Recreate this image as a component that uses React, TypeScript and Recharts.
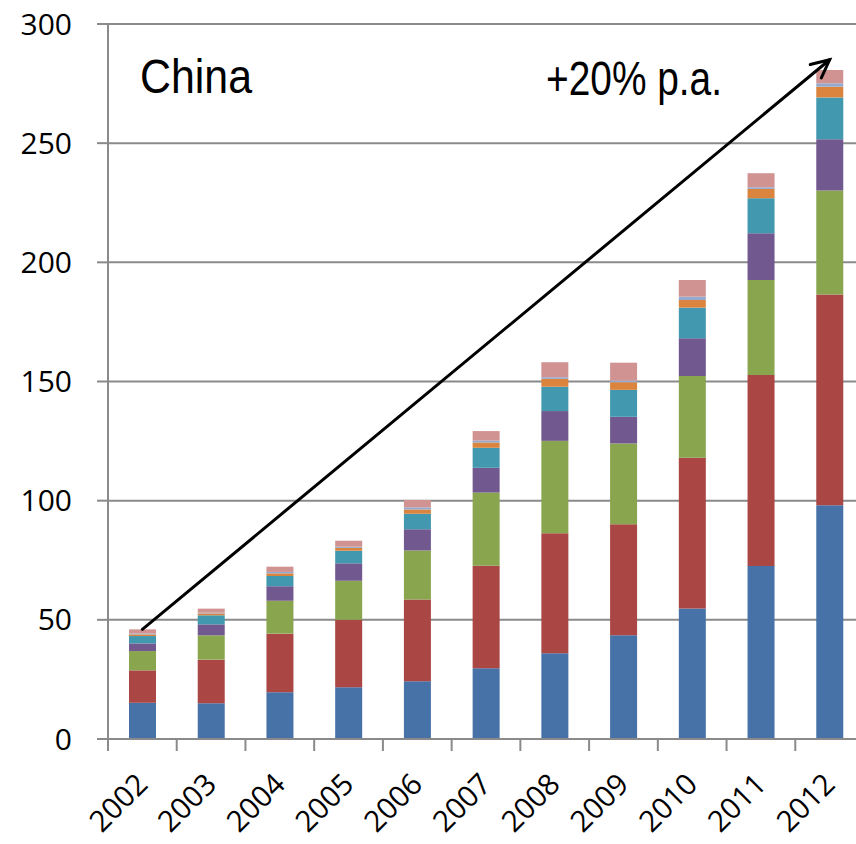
import React from 'react';
import {
  BarChart,
  Bar,
  XAxis,
  YAxis,
  CartesianGrid,
  ReferenceLine,
  Customized,
} from 'recharts';

if (typeof document !== 'undefined') document.body.style.margin = '0';

const YEARS = ['2002', '2003', '2004', '2005', '2006', '2007', '2008', '2009', '2010', '2011', '2012'];

const S1 = [15.2, 15.0, 19.6, 21.7, 24.2, 29.7, 36.0, 43.5, 54.8, 72.6, 98.1];
const S2 = [13.6, 18.3, 24.6, 28.3, 34.3, 43.0, 50.3, 46.6, 63.2, 80.1, 88.4];
const S3 = [8.1, 10.2, 13.8, 16.4, 20.6, 30.7, 38.8, 33.9, 34.3, 39.9, 43.6];
const S4 = [3.2, 4.6, 6.1, 7.3, 8.9, 10.4, 12.5, 11.2, 15.8, 19.6, 21.5];
const S5 = [3.1, 3.8, 4.3, 5.3, 6.5, 8.4, 10.2, 11.3, 12.9, 14.7, 17.6];
const S6 = [0.7, 0.8, 1.1, 1.2, 1.8, 2.2, 3.3, 3.2, 3.2, 3.9, 4.5];
const S7 = [0.4, 0.3, 0.6, 0.5, 0.9, 0.8, 0.7, 0.7, 1.4, 0.7, 1.4];
const S8 = [1.7, 1.7, 2.2, 2.5, 3.1, 4.0, 6.3, 7.5, 7.0, 5.9, 5.6];

const Y_TICKS = [0, 50, 100, 150, 200, 250, 300];

// trend arrow: from the 2002 total to +20% p.a. over ten years
const ARROW_START = 46;
const ARROW_END = 285;

const SERIES = [
  { key: 's1', values: S1, color: '#4672A8' },
  { key: 's2', values: S2, color: '#AA4643' },
  { key: 's3', values: S3, color: '#89A54E' },
  { key: 's4', values: S4, color: '#71588F' },
  { key: 's5', values: S5, color: '#4198AF' },
  { key: 's6', values: S6, color: '#DB843D' },
  { key: 's7', values: S7, color: '#93A9CF' },
  { key: 's8', values: S8, color: '#D19392' },
];

const data = YEARS.map((year, i) => {
  const row: Record<string, string | number> = { year };
  SERIES.forEach((s) => {
    row[s.key] = s.values[i];
  });
  return row;
});

const WIDTH = 864;
const HEIGHT = 844;
const Y_AXIS_W = 108;
const BAND = (WIDTH - Y_AXIS_W) / YEARS.length;
const GRAY = '#8a8a8a';
const FONT = '"Open Sans", sans-serif';

const YearTick = (props: any) => {
  const { x, y, payload, index } = props;
  const half = BAND / 2;
  return (
    <g transform={`translate(${x},${y})`}>
      <line x1={-half} y1={0} x2={-half} y2={12} stroke={GRAY} strokeWidth={2} />
      {index === YEARS.length - 1 && (
        <line x1={half} y1={0} x2={half} y2={12} stroke={GRAY} strokeWidth={2} />
      )}
      <text
        x={7}
        y={47}
        transform="rotate(-45 7 47)"
        textAnchor="end"
        fontSize={29.5}
        fontFamily={FONT}
        fill="#000"
      >
        {payload.value}
      </text>
    </g>
  );
};

const Arrow = (props: any) => {
  const { x1, y1, x2, y2 } = props;
  const ang = Math.atan2(y2 - y1, x2 - x1);
  const len = 20;
  const spread = 0.45;
  const ax = x2 - len * Math.cos(ang - spread);
  const ay = y2 - len * Math.sin(ang - spread);
  const bx = x2 - len * Math.cos(ang + spread);
  const by = y2 - len * Math.sin(ang + spread);
  return (
    <g stroke="#000" strokeWidth={3} fill="none" strokeLinecap="round">
      <line x1={x1} y1={y1} x2={x2} y2={y2} />
      <polyline points={`${ax},${ay} ${x2},${y2} ${bx},${by}`} />
    </g>
  );
};

const Titles = () => (
  <g fontFamily='"Liberation Sans", Arial, sans-serif' fill="#000">
    <text x={140} y={93} fontSize={49} textLength={112} lengthAdjust="spacingAndGlyphs">
      China
    </text>
    <text x={546} y={95} fontSize={49} textLength={176} lengthAdjust="spacingAndGlyphs">
      +20% p.a.
    </text>
  </g>
);

export default function App() {
  return (
    <div style={{ width: 856, height: 844, overflow: 'hidden', background: '#fff' }}>
      <BarChart
        width={WIDTH}
        height={HEIGHT}
        data={data}
        margin={{ top: 24, right: 0, bottom: 5, left: 0 }}
        barSize={27}
      >
        <CartesianGrid vertical={false} stroke={GRAY} strokeWidth={2} />
        <XAxis
          dataKey="year"
          height={100}
          tickSize={0}
          tickMargin={0}
          tickLine={false}
          axisLine={{ stroke: GRAY, strokeWidth: 2 }}
          tick={<YearTick />}
          interval={0}
        />
        <YAxis
          width={Y_AXIS_W}
          domain={[0, 300]}
          ticks={Y_TICKS}
          tickSize={11}
          tickMargin={25}
          axisLine={{ stroke: GRAY, strokeWidth: 2 }}
          tickLine={{ stroke: GRAY, strokeWidth: 2 }}
          tick={{ fontSize: 30, fontFamily: FONT, fill: '#000' }}
        />
        {SERIES.map((s) => (
          <Bar key={s.key} dataKey={s.key} stackId="a" fill={s.color} isAnimationActive={false} />
        ))}
        <ReferenceLine
          segment={[
            { x: YEARS[0], y: ARROW_START },
            { x: YEARS[YEARS.length - 1], y: ARROW_END },
          ]}
          shape={<Arrow />}
        />
        <Customized component={Titles} />
      </BarChart>
    </div>
  );
}
